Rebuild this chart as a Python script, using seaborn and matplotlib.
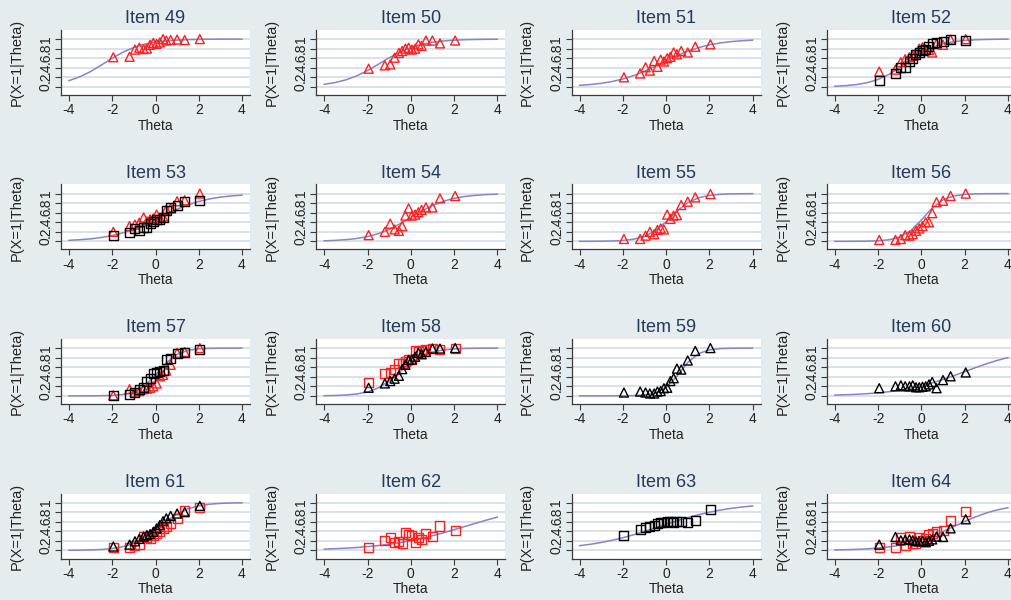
import numpy as np
import pandas as pd
import matplotlib
matplotlib.use('Agg')
import matplotlib.pyplot as plt
import seaborn as sns

plt.rcParams['font.family'] = ['Liberation Sans', 'DejaVu Sans']
plt.rcParams['axes.unicode_minus'] = False

# theta grid of the fitted ICCs, and mean theta of each score group
theta_grid = [-4, -3.5, -3, -2.5, -2, -1.5, -1, -0.5, 0, 0.5, 1, 1.5, 2, 2.5, 3, 3.5, 4]
theta_groups = [-1.95, -1.2, -0.95, -0.75, -0.55, -0.4, -0.25, -0.1, 0.05, 0.2, 0.35, 0.5, 0.7, 1.0, 1.35, 2.05]

items = [49, 50, 51, 52, 53, 54, 55, 56, 57, 58, 59, 60, 61, 62, 63, 64]

# fitted P(X=1|Theta) read at theta_grid
icc = {
    49: [0.130, 0.211, 0.321, 0.458, 0.599, 0.727, 0.825, 0.894, 0.937, 0.964, 0.979, 0.988, 0.993, 0.996, 0.998, 0.999, 0.999],
    50: [0.054, 0.090, 0.147, 0.230, 0.341, 0.473, 0.608, 0.729, 0.823, 0.890, 0.933, 0.960, 0.977, 0.986, 0.992, 0.995, 0.997],
    51: [0.032, 0.049, 0.074, 0.112, 0.165, 0.237, 0.327, 0.433, 0.545, 0.652, 0.746, 0.822, 0.879, 0.919, 0.947, 0.965, 0.978],
    52: [0.014, 0.026, 0.048, 0.088, 0.156, 0.261, 0.404, 0.565, 0.713, 0.826, 0.901, 0.946, 0.971, 0.985, 0.992, 0.996, 0.998],
    53: [0.022, 0.035, 0.053, 0.081, 0.121, 0.178, 0.254, 0.348, 0.455, 0.567, 0.673, 0.763, 0.835, 0.888, 0.926, 0.951, 0.968],
    54: [0.012, 0.021, 0.036, 0.060, 0.100, 0.161, 0.250, 0.366, 0.500, 0.634, 0.750, 0.839, 0.900, 0.940, 0.964, 0.979, 0.988],
    55: [0.0005, 0.0013, 0.003, 0.008, 0.019, 0.045, 0.103, 0.221, 0.411, 0.632, 0.808, 0.912, 0.962, 0.984, 0.994, 0.997, 0.999],
    56: [0.0002, 0.0005, 0.0015, 0.004, 0.012, 0.034, 0.090, 0.221, 0.448, 0.698, 0.869, 0.950, 0.982, 0.994, 0.998, 0.999, 1.0],
    57: [0.0001, 0.0004, 0.0012, 0.004, 0.010, 0.030, 0.082, 0.209, 0.435, 0.694, 0.869, 0.951, 0.983, 0.994, 0.998, 0.999, 1.0],
    58: [0.004, 0.008, 0.018, 0.039, 0.083, 0.168, 0.310, 0.500, 0.690, 0.832, 0.917, 0.961, 0.982, 0.992, 0.996, 0.998, 0.999],
    59: [0.0, 0.0, 0.0002, 0.0005, 0.0017, 0.006, 0.019, 0.060, 0.174, 0.411, 0.698, 0.885, 0.962, 0.988, 0.996, 0.999, 1.0],
    60: [0.017, 0.024, 0.033, 0.046, 0.064, 0.087, 0.118, 0.158, 0.209, 0.271, 0.343, 0.423, 0.507, 0.591, 0.670, 0.741, 0.801],
    61: [0.002, 0.005, 0.010, 0.019, 0.039, 0.078, 0.149, 0.265, 0.428, 0.608, 0.761, 0.869, 0.932, 0.966, 0.983, 0.992, 0.996],
    62: [0.027, 0.036, 0.046, 0.060, 0.078, 0.100, 0.127, 0.161, 0.202, 0.250, 0.305, 0.366, 0.432, 0.500, 0.568, 0.634, 0.695],
    63: [0.098, 0.128, 0.165, 0.211, 0.265, 0.327, 0.397, 0.470, 0.545, 0.618, 0.686, 0.746, 0.799, 0.843, 0.879, 0.907, 0.930],
    64: [0.009, 0.014, 0.021, 0.032, 0.049, 0.072, 0.107, 0.154, 0.218, 0.300, 0.395, 0.500, 0.605, 0.700, 0.782, 0.846, 0.893],
}

# observed proportions per score group, red group
obs_red = {
    49: [0.62, 0.63, 0.78, 0.82, 0.79, 0.80, 0.88, 0.92, 0.90, 0.93, 1.00, 0.97, 0.98, 0.99, 0.98, 1.00],
    50: [0.38, 0.45, 0.47, 0.61, 0.71, 0.75, 0.80, 0.82, 0.78, 0.80, 0.89, 0.86, 0.97, 0.97, 0.91, 0.97],
    51: [0.20, 0.28, 0.41, 0.34, 0.54, 0.42, 0.57, 0.53, 0.60, 0.63, 0.72, 0.68, 0.75, 0.72, 0.84, 0.89],
    52: [0.32, 0.36, 0.52, 0.58, 0.62, 0.65, 0.70, 0.80, 0.83, 0.78, 0.77, 0.72, 0.90, 0.88, 0.99, 1.00],
    53: [0.20, 0.32, 0.35, 0.39, 0.50, 0.42, 0.46, 0.48, 0.56, 0.49, 0.52, 0.66, 0.69, 0.84, 0.86, 1.00],
    54: [0.13, 0.20, 0.37, 0.25, 0.22, 0.32, 0.54, 0.69, 0.54, 0.56, 0.61, 0.66, 0.71, 0.71, 0.90, 0.95],
    55: [0.05, 0.05, 0.12, 0.20, 0.15, 0.24, 0.27, 0.25, 0.56, 0.47, 0.54, 0.55, 0.76, 0.83, 0.92, 0.99],
    56: [0.03, 0.03, 0.05, 0.13, 0.12, 0.15, 0.22, 0.27, 0.32, 0.40, 0.40, 0.59, 0.82, 0.85, 0.95, 1.00],
    57: [0.01, 0.14, 0.07, 0.10, 0.14, 0.15, 0.17, 0.20, 0.26, 0.41, 0.44, 0.53, 0.65, 0.90, 0.92, 1.00],
    58: [0.29, 0.46, 0.49, 0.56, 0.68, 0.68, 0.71, 0.76, 0.76, 0.94, 0.92, 0.95, 0.97, 0.99, 0.97, 0.99],
    61: [0.06, 0.05, 0.10, 0.12, 0.29, 0.26, 0.24, 0.32, 0.36, 0.39, 0.46, 0.50, 0.57, 0.67, 0.84, 0.89],
    62: [0.07, 0.21, 0.26, 0.17, 0.18, 0.15, 0.37, 0.33, 0.32, 0.17, 0.27, 0.22, 0.36, 0.29, 0.51, 0.41],
    64: [0.07, 0.07, 0.26, 0.10, 0.28, 0.14, 0.15, 0.26, 0.21, 0.24, 0.34, 0.36, 0.39, 0.41, 0.63, 0.82],
}

# observed proportions per score group, black group
obs_black = {
    52: [0.13, 0.28, 0.41, 0.41, 0.54, 0.60, 0.67, 0.72, 0.77, 0.79, 0.84, 0.90, 0.92, 0.94, 1.00, 0.98],
    53: [0.12, 0.18, 0.27, 0.22, 0.30, 0.30, 0.37, 0.42, 0.45, 0.46, 0.49, 0.64, 0.71, 0.76, 0.84, 0.86],
    57: [0.00, 0.03, 0.07, 0.14, 0.17, 0.31, 0.37, 0.47, 0.49, 0.51, 0.54, 0.76, 0.78, 0.88, 0.90, 0.97],
    58: [0.17, 0.26, 0.31, 0.36, 0.42, 0.56, 0.65, 0.75, 0.76, 0.82, 0.90, 0.87, 0.92, 0.99, 0.99, 1.00],
    59: [0.07, 0.09, 0.07, 0.05, 0.05, 0.09, 0.10, 0.16, 0.17, 0.31, 0.37, 0.57, 0.55, 0.74, 0.94, 1.00],
    60: [0.16, 0.20, 0.22, 0.20, 0.20, 0.22, 0.18, 0.18, 0.19, 0.20, 0.24, 0.29, 0.16, 0.33, 0.41, 0.49],
    61: [0.08, 0.12, 0.19, 0.24, 0.29, 0.32, 0.34, 0.39, 0.46, 0.53, 0.61, 0.67, 0.72, 0.77, 0.80, 0.93],
    63: [0.32, 0.43, 0.48, 0.49, 0.53, 0.57, 0.58, 0.59, 0.60, 0.61, 0.59, 0.60, 0.60, 0.58, 0.63, 0.86],
    64: [0.12, 0.28, 0.21, 0.22, 0.23, 0.21, 0.19, 0.19, 0.20, 0.17, 0.20, 0.23, 0.29, 0.28, 0.46, 0.65],
}

# marker shape per item for each group
red_shape = {52: '^', 53: '^', 57: '^', 58: 's', 61: 's', 62: 's', 64: 's'}
black_shape = {52: 's', 53: 's', 57: 's', 58: '^', 59: '^', 60: '^', 61: '^', 63: 's', 64: '^'}

bg = '#e4ecef'
grid_col = '#d8e2e8'
line_col = '#8585c8'
title_col = '#26395a'
axis_col = '#3a3a3a'

fig = plt.figure(figsize=(10.12, 6.0), dpi=100, facecolor=bg)
W, H = 1012.0, 600.0

for k, item in enumerate(items):
    r = k // 4
    c = k % 4
    left = 61 + 255.3 * c
    top = 30 + 154.5 * r
    ax = fig.add_axes([left / W, 1 - (top + 65) / H, 189 / W, 65 / H])
    ax.set_facecolor('white')

    sns.lineplot(x=theta_grid, y=icc[item], color=line_col, linewidth=1.1, ax=ax, zorder=2)

    if item in obs_red:
        sns.scatterplot(x=theta_groups, y=obs_red[item], marker=red_shape.get(item, '^'),
                        s=42, facecolors='none', edgecolor='#ff1f1f', linewidth=1.0, ax=ax, zorder=3)
    if item in obs_black:
        sns.scatterplot(x=theta_groups, y=obs_black[item], marker=black_shape[item],
                        s=42, facecolors='none', edgecolor='black', linewidth=1.0, ax=ax, zorder=4)

    ax.set_xlim(-4.37, 4.37)
    ax.set_ylim(-0.17, 1.19)
    ax.set_xticks([-4, -2, 0, 2, 4])
    ax.set_xticklabels(['-4', '-2', '0', '2', '4'], fontsize=10)
    ax.set_yticks([0, 0.2, 0.4, 0.6, 0.8, 1])
    ax.set_yticklabels(['0', '.2', '.4', '.6', '.8', '1'], fontsize=10, rotation=90, va='center')
    ax.grid(axis='y', color=grid_col, linewidth=1.4)
    ax.set_axisbelow(True)

    for side in ['top', 'right']:
        ax.spines[side].set_visible(False)
    for side in ['left', 'bottom']:
        ax.spines[side].set_color(axis_col)
        ax.spines[side].set_linewidth(0.9)
    ax.tick_params(direction='out', length=4, width=0.8, color=axis_col, labelcolor='#222222', pad=2)

    ax.set_title('Item %d' % item, fontsize=13, color=title_col, pad=5)
    ax.set_xlabel('Theta', fontsize=10, color='#222222', labelpad=1)
    ax.set_ylabel('P(X=1|Theta)', fontsize=10.5, color='#222222', labelpad=11)

plt.savefig('out.png', dpi=100, facecolor=bg)
